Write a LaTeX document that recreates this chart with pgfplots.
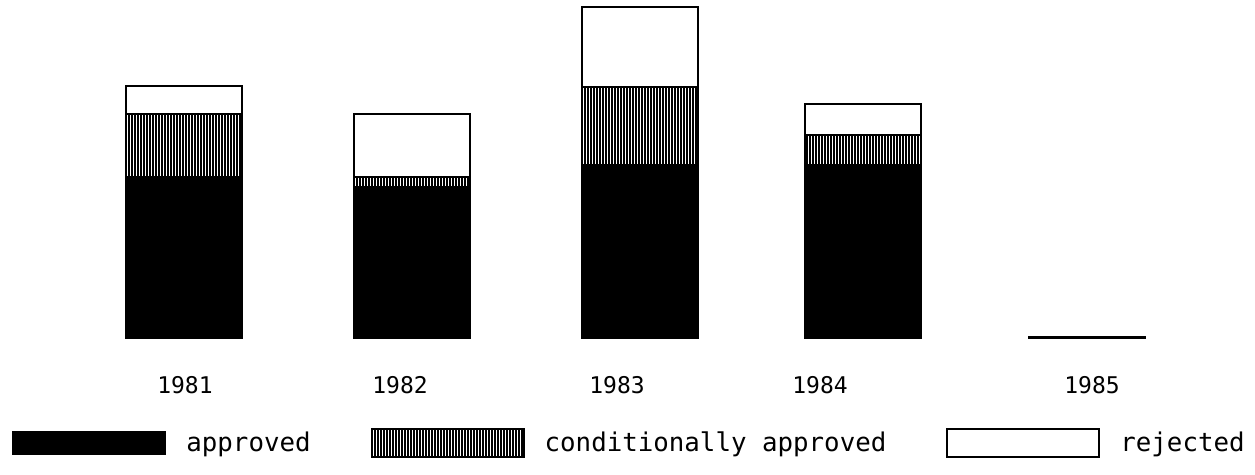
\documentclass[border=0pt]{standalone}
\usepackage{pgfplots}
\pgfplotsset{compat=1.18}
\usepackage{fontspec}
\setmainfont{DejaVu Sans Mono}
\usetikzlibrary{patterns.meta}
\pgfplotsset{
  boxsmall/.style={legend image code/.code={\draw[##1] (0pt,-5.5pt) rectangle (76pt,5.5pt);}},
  boxlarge/.style={legend image code/.code={\draw[##1] (0pt,-7pt) rectangle (76pt,7pt);}},
}

\begin{document}
\begin{tikzpicture}
\begin{axis}[
  scale only axis, width=627.5pt, height=237.5pt,
  xmin=0, xmax=1255, ymin=-137, ymax=338,
  hide axis,
  ybar stacked, bar width=116,
  clip=false,
  legend columns=3,
  legend style={at={(axis cs:12,-105)}, anchor=west, draw=none, fill=none,
    inner sep=0pt, font=\fontsize{12.9}{14}\selectfont,
    /tikz/every odd column/.append style={column sep=10pt},
    /tikz/every even column/.append style={column sep=30pt},
    nodes={inner sep=0pt}},
]
\path (rel axis cs:0,0) rectangle (rel axis cs:1,1);
\addplot[draw=black, line width=1pt, fill=black, boxsmall]
  coordinates {(184,161) (412,151) (640,173) (863,173) (1087,1)};
\addlegendentry{approved}
\addplot[draw=black, line width=1pt, fill=white,
  postaction={pattern={Lines[angle=90,distance=1.5pt,line width=0.65pt]}}, boxlarge]
  coordinates {(184,63) (412,10) (640,78) (863,30) (1087,0)};
\addlegendentry{conditionally approved}
\addplot[draw=black, line width=1pt, fill=white, boxlarge]
  coordinates {(184,28) (412,63) (640,80) (863,31) (1087,0)};
\addlegendentry{rejected}

\node[font=\fontsize{11.5}{13}\selectfont] at (axis cs:185,-47) {1981};
\node[font=\fontsize{11.5}{13}\selectfont] at (axis cs:400,-47) {1982};
\node[font=\fontsize{11.5}{13}\selectfont] at (axis cs:617,-47) {1983};
\node[font=\fontsize{11.5}{13}\selectfont] at (axis cs:820,-47) {1984};
\node[font=\fontsize{11.5}{13}\selectfont] at (axis cs:1092,-47) {1985};
\end{axis}
\end{tikzpicture}
\end{document}
